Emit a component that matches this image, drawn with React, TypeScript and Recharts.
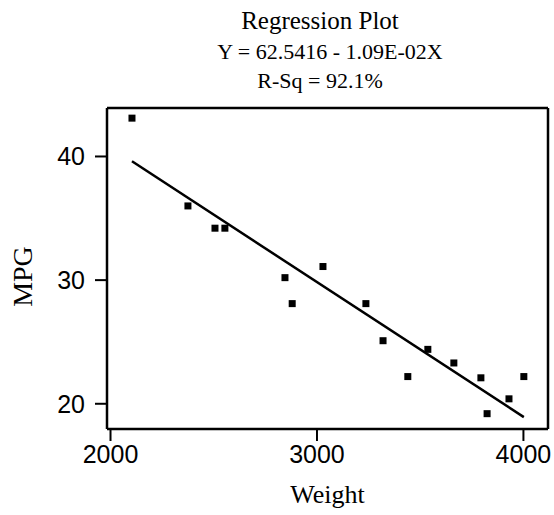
import { ScatterChart, Scatter, XAxis, YAxis, ReferenceLine } from "recharts";

const weight = [2104, 2375, 2506, 2554, 2845, 2880, 3029, 3237, 3320, 3440, 3537, 3663, 3794, 3824, 3930, 4002];
const mpg = [43.1, 36.0, 34.2, 34.2, 30.2, 28.1, 31.1, 28.1, 25.1, 22.2, 24.4, 23.3, 22.1, 19.2, 20.4, 22.2];

const xTicks = [2000, 3000, 4000];
const yTicks = [20, 30, 40];

// fitted line from the equation in the title
const intercept = 62.5416;
const slope = -1.09e-2;

const X_DOMAIN: [number, number] = [1983, 4119];
const Y_DOMAIN: [number, number] = [17.96, 43.92];

const serif = "'Liberation Serif', 'Times New Roman', serif";
const sans = "'Liberation Sans', Arial, sans-serif";

const points = weight.map((w, i) => ({ x: w, y: mpg[i] }));
const xMin = Math.min(...weight);
const xMax = Math.max(...weight);
const fitLine = [
  { x: xMin, y: intercept + slope * xMin },
  { x: xMax, y: intercept + slope * xMax },
];

function SquareDot(props: { cx?: number; cy?: number }) {
  const { cx = 0, cy = 0 } = props;
  return <rect x={cx - 3.5} y={cy - 3.5} width={7} height={7} fill="#000" />;
}

function NoDot() {
  return <g />;
}

const tickStyle = { fontSize: 25, fill: "#000", fontFamily: sans };
const axisStroke = { stroke: "#000", strokeWidth: 2.5 };

export default function App() {
  return (
    <div style={{ position: "absolute", left: 0, top: 0, width: 554, height: 515, background: "#fff" }}>
      <div
        style={{
          position: "absolute",
          left: 0,
          width: 554,
          top: 0,
          textAlign: "center",
          fontFamily: serif,
          color: "#000",
          paddingLeft: 86,
          boxSizing: "border-box",
        }}
      >
        <div style={{ fontSize: 25, lineHeight: "32px", marginTop: 5 }}>Regression Plot</div>
        <div style={{ fontSize: 22, lineHeight: "28px", marginTop: 1, paddingLeft: 20 }}>
          Y = 62.5416 - 1.09E-02X
        </div>
        <div style={{ fontSize: 22, lineHeight: "30px" }}>R-Sq = 92.1%</div>
      </div>
      <ScatterChart width={554} height={515} margin={{ top: 108, right: 6, bottom: 0, left: 0 }}>
        <XAxis
          type="number"
          dataKey="x"
          domain={X_DOMAIN}
          allowDataOverflow
          ticks={xTicks}
          tick={tickStyle}
          tickSize={12}
          tickMargin={4}
          axisLine={axisStroke}
          tickLine={{ stroke: "#000", strokeWidth: 2 }}
          height={86}
          label={{
            value: "Weight",
            position: "insideBottom",
            offset: 12,
            style: { fontSize: 26, fill: "#000", fontFamily: serif },
          }}
        />
        <YAxis
          type="number"
          dataKey="y"
          domain={Y_DOMAIN}
          allowDataOverflow
          ticks={yTicks}
          tick={tickStyle}
          tickSize={12}
          tickMargin={10}
          axisLine={axisStroke}
          tickLine={{ stroke: "#000", strokeWidth: 2 }}
          width={107}
          label={{
            value: "MPG",
            angle: -90,
            position: "insideLeft",
            offset: 22,
            dy: 8,
            style: { fontSize: 28, fill: "#000", fontFamily: serif, textAnchor: "middle" },
          }}
        />
        <ReferenceLine y={Y_DOMAIN[1]} stroke="#000" strokeWidth={2.5} />
        <ReferenceLine x={X_DOMAIN[1]} stroke="#000" strokeWidth={2.5} />
        <Scatter data={points} shape={<SquareDot />} isAnimationActive={false} />
        <Scatter
          data={fitLine}
          line={{ stroke: "#000", strokeWidth: 2.5 }}
          shape={<NoDot />}
          isAnimationActive={false}
        />
      </ScatterChart>
    </div>
  );
}
